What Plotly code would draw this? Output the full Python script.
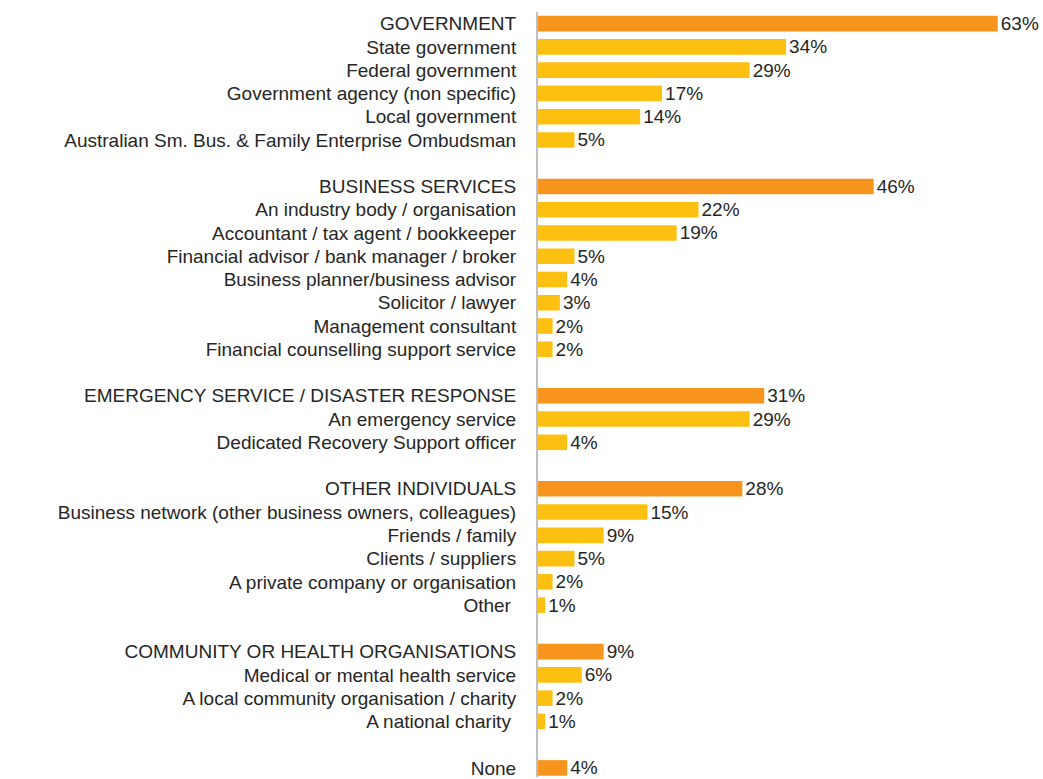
import plotly.graph_objects as go

# Groups: heading label/value, then sub-item labels/values
group_titles = ["GOVERNMENT", "BUSINESS SERVICES", "EMERGENCY SERVICE / DISASTER RESPONSE",
                "OTHER INDIVIDUALS", "COMMUNITY OR HEALTH ORGANISATIONS", "None"]
group_values = [63, 46, 31, 28, 9, 4]

government_items = ["State government", "Federal government", "Government agency (non specific)",
                    "Local government", "Australian Sm. Bus. & Family Enterprise Ombudsman"]
government_values = [34, 29, 17, 14, 5]

business_items = ["An industry body / organisation", "Accountant / tax agent / bookkeeper",
                  "Financial advisor / bank manager / broker", "Business planner/business advisor",
                  "Solicitor / lawyer", "Management consultant", "Financial counselling support service"]
business_values = [22, 19, 5, 4, 3, 2, 2]

emergency_items = ["An emergency service", "Dedicated Recovery Support officer"]
emergency_values = [29, 4]

individual_items = ["Business network (other business owners, colleagues)", "Friends / family",
                    "Clients / suppliers", "A private company or organisation", "Other\u00a0"]
individual_values = [15, 9, 5, 2, 1]

community_items = ["Medical or mental health service", "A local community organisation / charity",
                   "A national charity\u00a0"]
community_values = [6, 2, 1]

none_items = []
none_values = []

sub_items = [government_items, business_items, emergency_items, individual_items, community_items, none_items]
sub_values = [government_values, business_values, emergency_values, individual_values, community_values, none_values]

ORANGE = "#F7941D"
YELLOW = "#FDC010"
TEXT = "#262626"
FONT = "Liberation Sans, Arial, sans-serif"
FONT_SIZE = 19

# Lay rows out top to bottom with an empty row between groups
pos, labels, values, colors = [], [], [], []
row = 0
for title, tval, items, ivals in zip(group_titles, group_values, sub_items, sub_values):
    pos.append(row); labels.append(title); values.append(tval); colors.append(ORANGE)
    row += 1
    for lab, v in zip(items, ivals):
        pos.append(row); labels.append(lab); values.append(v); colors.append(YELLOW)
        row += 1
    row += 1  # gap

fig = go.Figure(go.Bar(
    x=values, y=pos, orientation="h",
    marker=dict(color=colors, line=dict(width=0)),
    text=[f"{v}%" for v in values], textposition="outside",
    constraintext="none",
    textfont=dict(family=FONT, size=FONT_SIZE, color=TEXT),
    cliponaxis=False, width=0.67,
))

fig.update_layout(
    width=1043, height=779,
    margin=dict(l=538, r=0, t=12, b=0),
    paper_bgcolor="white", plot_bgcolor="white",
    showlegend=False,
    font=dict(family=FONT, size=FONT_SIZE, color=TEXT),
    xaxis=dict(range=[0, 69.2], visible=False, fixedrange=True),
    yaxis=dict(range=[32.39, -0.5], tickvals=pos, ticktext=labels,
               showline=True, linecolor="#BFBFBF", linewidth=2,
               showgrid=False, zeroline=False, ticks="",
               ticklabelstandoff=16, ticklabeloverflow="allow",
               tickfont=dict(family=FONT, size=FONT_SIZE, color=TEXT)),
)

fig.write_html("out.html")
